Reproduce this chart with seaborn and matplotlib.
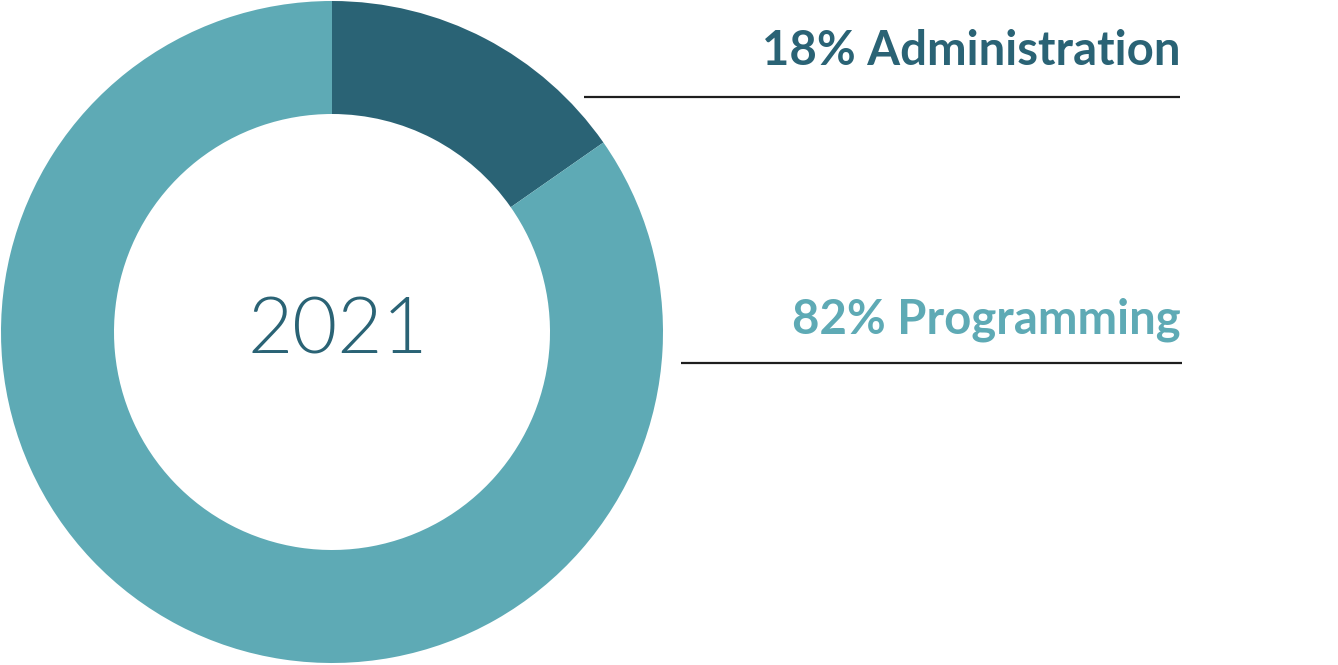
import matplotlib
matplotlib.use("Agg")
import matplotlib.pyplot as plt
import seaborn as sns

# data
categories = ["Administration", "Programming"]
labels = ["18% Administration", "82% Programming"]
shares = [15.3, 84.7]  # slice sizes as drawn
year = "2021"

dark = "#2a6375"
light = "#5eaab5"
colors = [dark, light]

sns.set_theme(style="white")
plt.rcParams["font.family"] = ["Lato", "DejaVu Sans"]

W, H = 1338, 665
fig = plt.figure(figsize=(W / 100, H / 100), dpi=100)
ax = fig.add_axes([0, 0, 1, 1])

ax.pie(shares, colors=colors, startangle=90, counterclock=False,
       radius=331, center=(332, H - 332),
       wedgeprops=dict(width=113, edgecolor="none", linewidth=0))
ax.set_xlim(0, W)
ax.set_ylim(0, H)
ax.set_aspect("auto")
ax.axis("off")

ax.text(338, H - 354, year, ha="center", va="baseline",
        fontsize=56, fontweight=300, color=dark)

# labels with rules underneath
ax.text(1180, H - 65, labels[0], ha="right", va="baseline",
        fontsize=34, fontweight="bold", color=dark)
ax.plot([584, 1180], [H - 97, H - 97], color="#1e1e1e", lw=1.6,
        solid_capstyle="butt")

ax.text(1181, H - 334, labels[1], ha="right", va="baseline",
        fontsize=34, fontweight="bold", color=light)
ax.plot([681, 1182], [H - 363, H - 363], color="#1e1e1e", lw=1.6,
        solid_capstyle="butt")

fig.savefig("out.png", dpi=100)
